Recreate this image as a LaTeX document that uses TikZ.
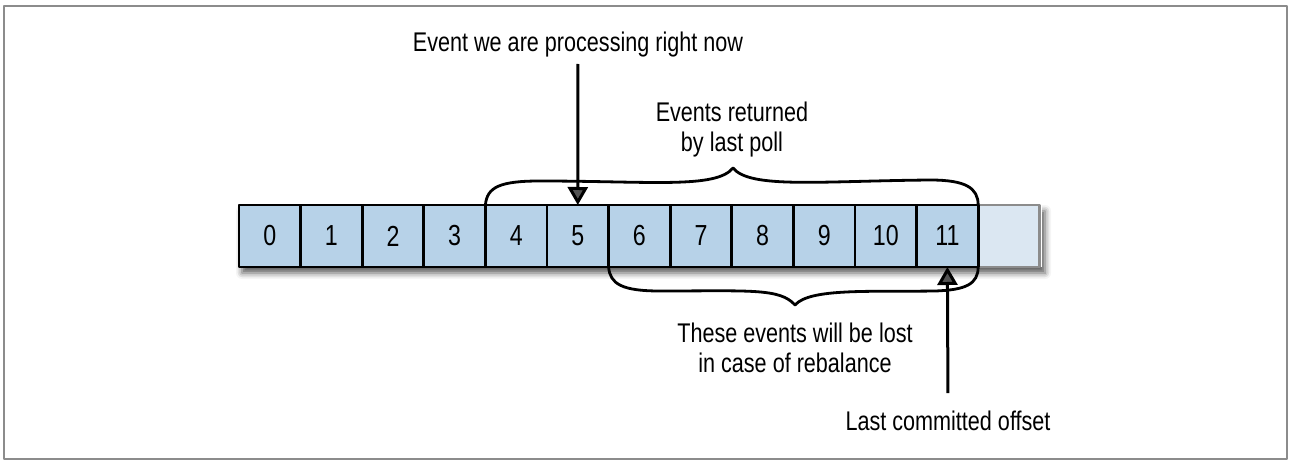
\documentclass[tikz,border=0pt]{standalone}
\usepackage{fontspec}
\setmainfont{Liberation Sans}[FakeStretch=0.8]
\usetikzlibrary{positioning, arrows.meta, shadows.blur}
\definecolor{cellblue}{RGB}{183,210,232}
\definecolor{cellpale}{RGB}{219,231,242}
\definecolor{framegray}{RGB}{140,140,140}

\begin{document}
\begin{tikzpicture}[x=1pt, y=-1pt, line join=round, line width=2.8pt,
  cell/.style={draw, fill=cellblue, minimum width=61.6pt, minimum height=62pt, inner sep=0pt, outer sep=0pt, font=\fontsize{29}{30}\selectfont},
  lbl/.style={align=center, font=\fontsize{27}{30}\selectfont, inner sep=0pt},
  pointer/.style={-{Triangle[length=18pt, width=20pt]}, line width=3pt}]
\useasboundingbox (0,0) rectangle (1296,462);
% Frame
\draw[framegray, line width=2pt] (4,6) rectangle (1287,459);
% Shadow under the log
\fill[white, blur shadow={shadow xshift=3pt, shadow yshift=-6pt, shadow blur radius=6pt, shadow opacity=65}] (239,205) rectangle (1042,267);
% Cells
\node[cell, anchor=west] (c0) at (239,236) {0};
\foreach \i [count=\j from 0] in {1,...,11}
  \node[cell, right=0pt of c\j] (c\i) {\i};
\node[cell, fill=cellpale, draw=framegray, right=0pt of c11] (c12) {};
\draw (c11.north east) -- (c11.south east);
% Braces
\draw (c4.north west) .. controls (487,187) and (500,181) .. (540,181)
  .. controls (650,181) and (716,189) .. (733,168)
  .. controls (750,189) and (820,181) .. (930,180)
  .. controls (966,180) and (978,188) .. (c11.north east);
\draw (c6.south west) .. controls (610,284) and (622,291) .. (660,291)
  .. controls (750,291) and (780,288) .. (795,305)
  .. controls (810,288) and (870,292) .. (935,291)
  .. controls (966,290) and (978,284) .. (c11.south east);
% Text
\node[lbl, anchor=base] (now) at (578,52) {Event we are processing right now};
\node[lbl, anchor=base] (poll) at (732,152) {Events returned\\by last poll};
\node[lbl, anchor=base] (lost) at (795,372) {These events will be lost\\in case of rebalance};
\node[lbl, anchor=base] (offset) at (948,430) {Last committed offset};
% Pointers
\draw[pointer, shorten <=5pt] (now.south) -- (c5.north);
\draw[pointer, shorten <=16pt] (offset.north) -- (c11.south);
\end{tikzpicture}
\end{document}
